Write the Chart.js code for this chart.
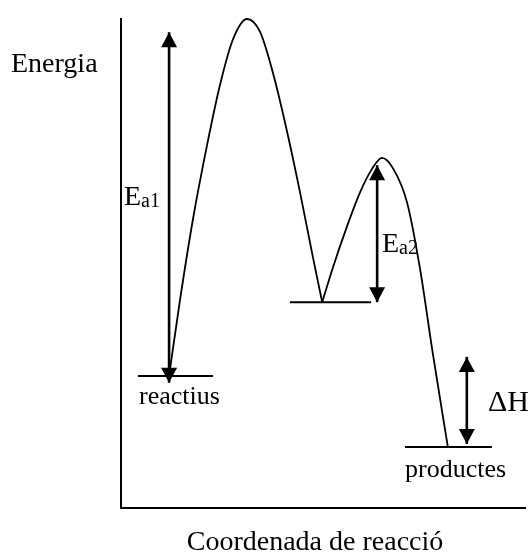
<!DOCTYPE html>
<html>
<head>
<meta charset="utf-8">
<script src="https://cdn.jsdelivr.net/npm/chart.js@4.4.0/dist/chart.umd.min.js"></script>
<style>
body{margin:0;background:#fff;}
canvas{display:block;}
</style>
</head>
<body>
<canvas id="chart" width="532" height="554"></canvas>
<script>
// Corba d'energia: primer tram (reactius -> intermedi) i segon tram (intermedi -> productes)
const corbaX1 = [11.9,14.6,17.8,21.3,24.5,27.7,31.2,34.4,37.6,41.1,44.3,47.5,49.8];
const corbaY1 = [27.0,42.5,59.0,74.2,86.5,95.8,100,97.4,89.0,77.0,64.6,51.3,42.1];
const corbaX2 = [49.8,52.5,55.9,59.2,62.1,64.6,67.3,70.8,74.0,77.2,80.9];
const corbaY2 = [42.1,49.3,57.5,64.6,69.3,71.6,69.5,62.5,49.0,31.5,12.5];

// Nivells horitzontals
const nivells = ["reactius","intermedi","productes"];
const nivellX0 = [4.2,41.8,70.3];
const nivellX1 = [22.8,61.9,91.8];
const nivellY = [27.0,42.1,12.5];

// Fletxes dobles
const fletxes = ["Ea1","Ea2","ΔH"];
const fletxaX = [11.9,63.4,85.6];
const fletxaDalt = [97.3,70.1,30.9];
const fletxaBaix = [25.6,42.1,13.1];

const FONT = '"Liberation Serif","DejaVu Serif",serif';

function punts(xs,ys){ return xs.map((x,i)=>({x:x,y:ys[i]})); }

let datasets = [];
[[corbaX1,corbaY1],[corbaX2,corbaY2]].forEach(c=>{
  datasets.push({data:punts(c[0],c[1]),borderColor:"#000",borderWidth:1.8,pointRadius:0,cubicInterpolationMode:"monotone",clip:false});
});
nivells.forEach((n,i)=>{
  datasets.push({label:n,data:[{x:nivellX0[i],y:nivellY[i]},{x:nivellX1[i],y:nivellY[i]}],borderColor:"#000",borderWidth:2,pointRadius:0,clip:false});
});
fletxes.forEach((f,i)=>{
  datasets.push({label:f,fletxa:true,data:[{x:fletxaX[i],y:fletxaBaix[i]},{x:fletxaX[i],y:fletxaDalt[i]}],borderColor:"#000",borderWidth:2.6,pointRadius:0,clip:false});
});

// Puntes de fletxa
const puntes = {
  id:"puntes",
  afterDatasetsDraw(chart){
    const ctx=chart.ctx;
    ctx.save(); ctx.fillStyle="#000";
    chart.data.datasets.forEach((ds,i)=>{
      if(!ds.fletxa) return;
      const pts=chart.getDatasetMeta(i).data;
      const b=pts[0], t=pts[1];
      ctx.beginPath(); ctx.moveTo(t.x,t.y); ctx.lineTo(t.x-8,t.y+15); ctx.lineTo(t.x+8,t.y+15); ctx.closePath(); ctx.fill();
      ctx.beginPath(); ctx.moveTo(b.x,b.y); ctx.lineTo(b.x-8,b.y-15); ctx.lineTo(b.x+8,b.y-15); ctx.closePath(); ctx.fill();
    });
    ctx.restore();
  }
};

function subindex(ctx,x,y,gran,petit,mida,midaSub){
  ctx.font=mida+"px "+FONT; ctx.fillText(gran,x,y);
  const w=ctx.measureText(gran).width;
  ctx.font=midaSub+"px "+FONT; ctx.fillText(petit,x+w,y+2);
}

// Textos
const textos = {
  id:"textos",
  afterDraw(chart){
    const ctx=chart.ctx;
    ctx.save(); ctx.fillStyle="#000"; ctx.textBaseline="alphabetic";
    ctx.font="28px "+FONT; ctx.fillText("Energia",11,72);
    ctx.font="26px "+FONT; ctx.fillText("reactius",139,404);
    ctx.fillText("productes",405,477);
    subindex(ctx,124,205,"E","a1",28,20);
    subindex(ctx,382,252,"E","a2",28,20);
    ctx.font="30px "+FONT; ctx.fillText("ΔH",488,411);
    ctx.font="28px "+FONT; ctx.textAlign="center"; ctx.fillText("Coordenada de reacció",315,550);
    ctx.restore();
  }
};

const eix = {type:"linear",min:0,max:100,ticks:{display:false},grid:{display:false},border:{color:"#000",width:2}};

new Chart(document.getElementById("chart"),{
  type:"line",
  data:{datasets:datasets},
  options:{
    responsive:false,animation:false,
    layout:{padding:{left:113,top:19,right:7,bottom:38}},
    plugins:{legend:{display:false},tooltip:{enabled:false}},
    scales:{x:eix,y:Object.assign({},eix)}
  },
  plugins:[puntes,textos]
});
</script>
</body>
</html>
